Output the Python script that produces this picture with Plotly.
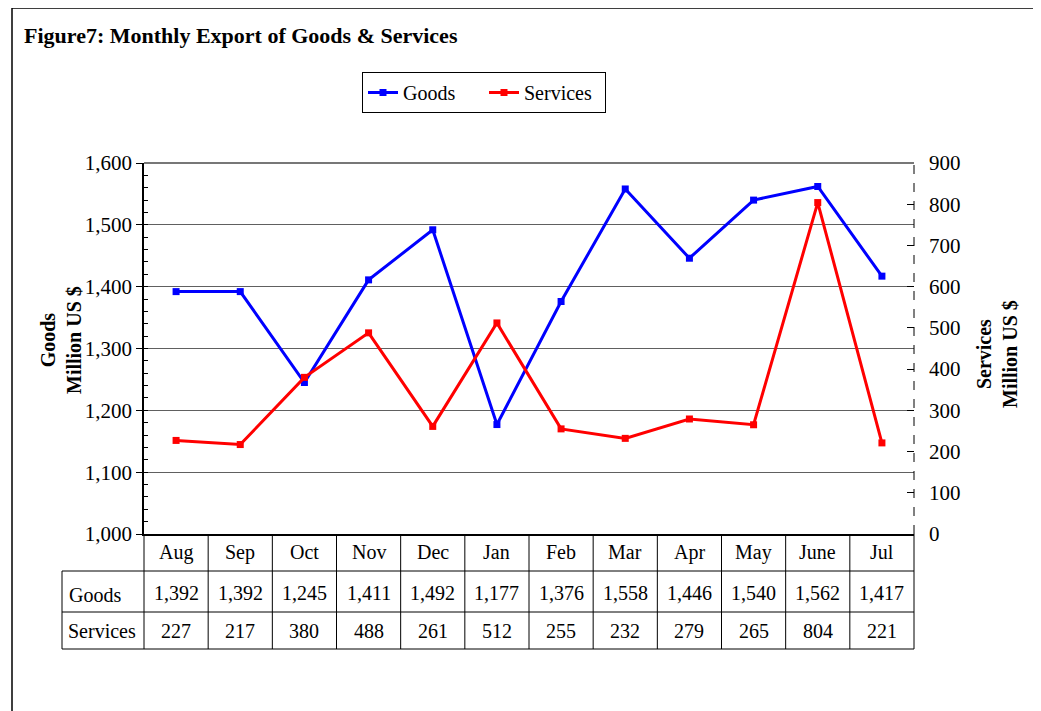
import plotly.graph_objects as go

months = ["Aug", "Sep", "Oct", "Nov", "Dec", "Jan", "Feb", "Mar", "Apr", "May", "June", "Jul"]
goods = [1392, 1392, 1245, 1411, 1492, 1177, 1376, 1558, 1446, 1540, 1562, 1417]
services = [227, 217, 380, 488, 261, 512, 255, 232, 279, 265, 804, 221]

FONT = "Liberation Serif"

# the page body adds an 8px margin, so the figure is 8px smaller
OFF = 8
W, H = 1041 - OFF, 711 - OFF
L, T = 144 - OFF, 163 - OFF
PW, PH = 770, 371
R, B = W - L - PW, H - T - PH


def px_x(px):
    # reference x pixel -> paper
    return (px - OFF - L) / PW


def px_y(py):
    # reference y pixel -> paper
    return (T + PH - (py - OFF)) / PH


fig = go.Figure()

fig.add_trace(go.Scatter(
    x=months, y=goods, name="Goods", mode="lines+markers",
    line=dict(color="#0000ff", width=3),
    marker=dict(symbol="square", size=7, color="#0000ff"),
))
fig.add_trace(go.Scatter(
    x=months, y=services, name="Services", mode="lines+markers", yaxis="y2",
    line=dict(color="#ff0000", width=3),
    marker=dict(symbol="square", size=7, color="#ff0000"),
))

shapes = []
line = dict(color="black", width=1)

# outer frame
shapes.append(dict(type="rect", xref="paper", yref="paper",
                   x0=px_x(12), x1=px_x(1060), y0=px_y(730), y1=px_y(8),
                   line=dict(color="black", width=1.5)))
# top border of plot and dashed right axis
shapes.append(dict(type="line", xref="paper", yref="paper", x0=0, x1=1, y0=1, y1=1,
                   line=dict(color="#777777", width=2)))
shapes.append(dict(type="line", xref="paper", yref="paper", x0=1, x1=1, y0=0, y1=1,
                   line=dict(color="black", width=1, dash="dash")))

# data table grid
n = len(months)
row_y = [534, 571, 612, 649]
for i in range(n + 1):
    shapes.append(dict(type="line", xref="paper", yref="paper",
                       x0=i / n, x1=i / n, y0=px_y(row_y[0]), y1=px_y(row_y[-1]), line=line))
shapes.append(dict(type="line", xref="paper", yref="paper",
                   x0=px_x(62), x1=px_x(62), y0=px_y(row_y[1]), y1=px_y(row_y[-1]), line=line))
for ry in row_y[1:]:
    shapes.append(dict(type="line", xref="paper", yref="paper",
                       x0=px_x(62), x1=1, y0=px_y(ry), y1=px_y(ry), line=line))

annotations = []
tfont = dict(family=FONT, size=20, color="black")
for m, g, s in zip(months, goods, services):
    annotations.append(dict(x=m, xref="x", y=px_y(552), yref="paper", text=m,
                            xanchor="center", yanchor="middle", showarrow=False, font=tfont))
    annotations.append(dict(x=m, xref="x", y=px_y(593), yref="paper", text=f"{g:,}",
                            xanchor="center", yanchor="middle", showarrow=False, font=tfont))
    annotations.append(dict(x=m, xref="x", y=px_y(631), yref="paper", text=f"{s:,}",
                            xanchor="center", yanchor="middle", showarrow=False, font=tfont))
annotations.append(dict(x=px_x(67), xref="paper", y=px_y(595), yref="paper", text="Goods",
                        xanchor="left", yanchor="middle", showarrow=False, font=tfont))
annotations.append(dict(x=px_x(66), xref="paper", y=px_y(631), yref="paper", text="Services",
                        xanchor="left", yanchor="middle", showarrow=False, font=tfont))

# title and axis titles
annotations.append(dict(x=px_x(22), xref="paper", y=px_y(35), yref="paper",
                        text="<b>Figure7: Monthly Export of Goods & Services</b>",
                        xanchor="left", yanchor="middle", showarrow=False,
                        font=dict(family=FONT, size=22, color="black")))
annotations.append(dict(x=px_x(61), xref="paper", y=px_y(340), yref="paper",
                        text="<b>Goods<br>Million US $</b>", textangle=-90,
                        xanchor="center", yanchor="middle",
                        showarrow=False, font=dict(family=FONT, size=20, color="black")))
annotations.append(dict(x=px_x(997), xref="paper", y=px_y(354), yref="paper",
                        text="<b>Services<br>Million US $</b>", textangle=-90,
                        xanchor="center", yanchor="middle",
                        showarrow=False, font=dict(family=FONT, size=20, color="black")))

fig.update_layout(
    width=W, height=H,
    margin=dict(l=L, r=R, t=T, b=B, pad=0),
    paper_bgcolor="white", plot_bgcolor="white",
    font=dict(family=FONT, size=20, color="black"),
    showlegend=True,
    legend=dict(orientation="h", x=px_x(362), y=px_y(72), xanchor="left", yanchor="top",
                bordercolor="black", borderwidth=1, bgcolor="white",
                font=dict(family=FONT, size=20), entrywidth=76, entrywidthmode="pixels",
                tracegroupgap=0),
    xaxis=dict(type="category", range=[-0.5, n - 0.5], showticklabels=False,
               showgrid=False, showline=True, linecolor="black", linewidth=1.5,
               ticks="", zeroline=False),
    yaxis=dict(range=[1000, 1600], dtick=100, tickformat=",", showgrid=True,
               gridcolor="#606060", gridwidth=1, showline=True, linecolor="black",
               linewidth=1.5, ticks="outside", ticklen=6, tickcolor="black",
               minor=dict(dtick=20, ticks="inside", ticklen=4, tickcolor="black", showgrid=False),
               zeroline=False, tickfont=dict(family=FONT, size=21)),
    yaxis2=dict(range=[0, 900], dtick=100, overlaying="y", side="right", showgrid=False,
                showline=False, ticks="inside", ticklen=7, tickcolor="black",
                ticklabelstandoff=14, zeroline=False, tickfont=dict(family=FONT, size=21)),
    shapes=shapes,
    annotations=annotations,
)

fig.write_html("out.html")
